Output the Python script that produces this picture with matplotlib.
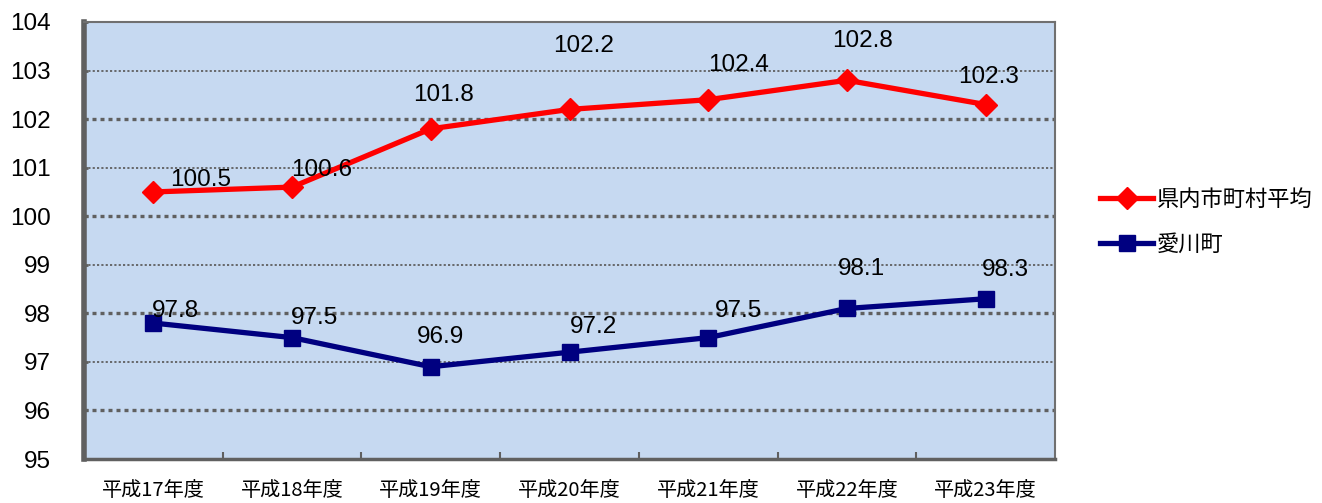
import matplotlib as mpl
mpl.use('Agg')
import matplotlib.pyplot as plt
import numpy as np

plt.rcParams['font.family'] = ['Liberation Sans', 'Noto Sans CJK JP', 'DejaVu Sans']

# data
years = ['平成17年度', '平成18年度', '平成19年度', '平成20年度', '平成21年度', '平成22年度', '平成23年度']
pref_avg = [100.5, 100.6, 101.8, 102.2, 102.4, 102.8, 102.3]
aikawa = [97.8, 97.5, 96.9, 97.2, 97.5, 98.1, 98.3]
series_names = ['県内市町村平均', '愛川町']

# label offsets in pixels (dx, dy) from each point
pref_off = [(47, 12), (30, 17), (13, 34), (14, 63), (30, 35), (16, 39), (3, 28)]
aik_off = [(22, 12), (22, 20), (10, 30), (24, 25), (30, 27), (15, 39), (20, 29)]

fig = plt.figure(figsize=(13.22, 5.03), dpi=100)
ax = fig.add_axes([84/1322, 44/503, (1055-84)/1322, (459-22)/503])
ax.set_facecolor('#C6D9F1')

x = np.arange(len(years))
ax.set_xlim(-0.5, len(years) - 0.5)
ax.set_ylim(95, 104)

# gridlines
for v in range(96, 104):
    lw = 2.4 if v % 2 == 0 else 1.3
    ax.axhline(v, color='#606060', lw=lw, ls=(0, (1.2, 1.2)), zorder=1)

l1, = ax.plot(x, pref_avg, color='#FF0000', lw=3.8, marker='D', ms=11,
              label=series_names[0], zorder=3)
l2, = ax.plot(x, aikawa, color='#000080', lw=3.8, marker='s', ms=12,
              label=series_names[1], zorder=3)

for xi, v, off in zip(x, pref_avg, pref_off):
    ax.annotate(f'{v:.1f}', (xi, v), xytext=off, textcoords='offset pixels',
                ha='center', va='center', fontsize=17.5, zorder=4)
for xi, v, off in zip(x, aikawa, aik_off):
    ax.annotate(f'{v:.1f}', (xi, v), xytext=off, textcoords='offset pixels',
                ha='center', va='center', fontsize=17.5, zorder=4)

ax.set_yticks(range(95, 105))
ax.set_yticklabels([str(v) for v in range(95, 105)], fontsize=17.5)
ax.tick_params(axis='y', length=3, width=2, color='#606060', direction='in', pad=24)

ax.set_xticks(x)
ax.set_xticklabels(years, fontsize=14.5, family=['Noto Sans CJK JP'])
ax.tick_params(axis='x', length=0, pad=15)
ax.set_xticks(np.arange(0.5, len(years) - 0.5), minor=True)
ax.tick_params(axis='x', which='minor', length=5, width=1.5, color='#606060', direction='in')

for s in ['top', 'right']:
    ax.spines[s].set_color('#707070')
    ax.spines[s].set_linewidth(1.5)
ax.spines['left'].set_color('#606060')
ax.spines['left'].set_linewidth(4)
ax.spines['bottom'].set_color('#606060')
ax.spines['bottom'].set_linewidth(2.5)

leg = fig.legend(handles=[l1, l2], loc='center left', bbox_to_anchor=(1080/1322, 1 - 222/503),
                 frameon=False, handlelength=2.4, handletextpad=0.15,
                 labelspacing=1.0, prop={'family': ['Noto Sans CJK JP'], 'size': 16})

fig.savefig('out.png', dpi=100)
